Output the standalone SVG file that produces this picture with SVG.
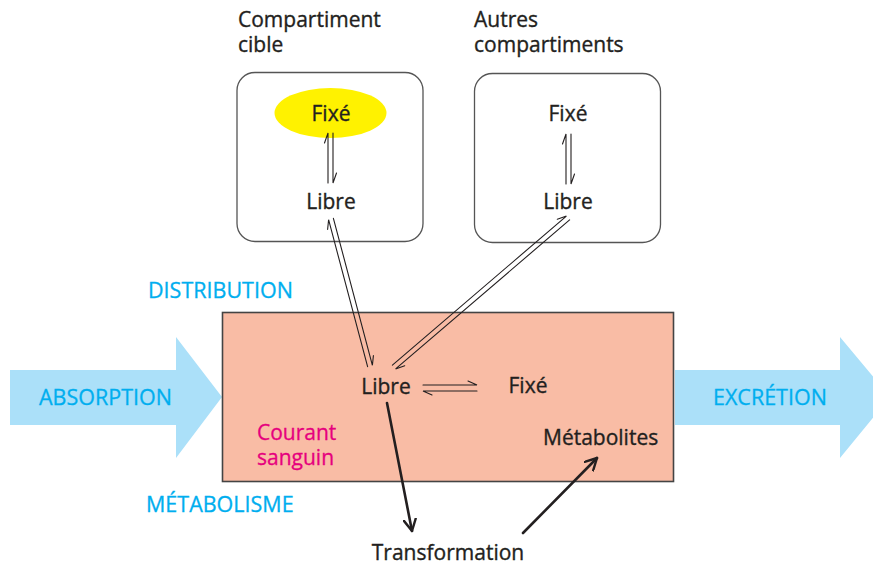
<svg xmlns="http://www.w3.org/2000/svg" width="873" height="566" viewBox="0 0 873 566">
  <style>
    .lbl { font-family: "Open Sans", "Noto Sans", sans-serif; font-size: 21px; fill: #231f20; stroke: #231f20; stroke-width: 0.35; }
    .mid { text-anchor: middle; }
    .phase { font-family: "Open Sans", "Noto Sans", sans-serif; font-size: 21.5px; fill: #00aeef; stroke: #00aeef; stroke-width: 0.3; }
    .blood { font-family: "Open Sans", "Noto Sans", sans-serif; font-size: 21px; fill: #e6007e; stroke: #e6007e; stroke-width: 0.3; }
    .box { fill: #ffffff; stroke: #555555; stroke-width: 1.3; }
    .flow { fill: #abe0f9; }
    .thin { fill: none; stroke: #231f20; stroke-width: 1.1; stroke-linecap: round; }
    .thick { fill: none; stroke: #231f20; stroke-width: 2.6; stroke-linecap: round; }
  </style>
  <defs>
    <marker id="open" viewBox="0 0 14 14" refX="12.5" refY="7" markerWidth="14" markerHeight="14" markerUnits="userSpaceOnUse" orient="auto">
      <path d="M1,1 L12.5,7 L1,13" fill="none" stroke="#231f20" stroke-width="2.4" stroke-linecap="round" stroke-linejoin="round"/>
    </marker>
  </defs>

  <!-- flow arrows in and out of the bloodstream -->
  <g id="absorption">
    <polygon class="flow" points="10,370 176,370 176,337 222,397 176,458 176,425 10,425"/>
    <text class="phase" x="39" y="405">ABSORPTION</text>
  </g>
  <g id="excretion">
    <polygon class="flow" points="675,370 840,370 840,337 890,397 840,458 840,425 675,425"/>
    <text class="phase" x="713" y="405">EXCRÉTION</text>
  </g>

  <!-- bloodstream -->
  <g id="courant-sanguin">
    <rect x="222.5" y="312.5" width="451" height="169" fill="#f9bca5" stroke="#444444" stroke-width="1.6"/>
    <text class="blood"><tspan x="257" y="440">Courant</tspan><tspan x="257" y="465">sanguin</tspan></text>
  </g>
  <g id="sang-libre"><text class="lbl mid" x="386" y="394">Libre</text></g>
  <g id="sang-fixe"><text class="lbl mid" x="528" y="393">Fixé</text></g>
  <g id="metabolites"><text class="lbl" x="543" y="445">Métabolites</text></g>
  <g id="transformation"><text class="lbl mid" x="448" y="560">Transformation</text></g>

  <!-- target compartment -->
  <g id="compartiment-cible">
    <text class="lbl"><tspan x="238" y="27">Compartiment</tspan><tspan x="238" y="52">cible</tspan></text>
    <rect class="box" x="237" y="72.5" width="186" height="169" rx="18"/>
    <ellipse cx="330.5" cy="113" rx="56" ry="25" fill="#fff200"/>
    <text class="lbl mid" x="331" y="121">Fixé</text>
    <text class="lbl mid" x="331" y="209">Libre</text>
  </g>

  <!-- other compartments -->
  <g id="autres-compartiments">
    <text class="lbl"><tspan x="474" y="27">Autres</tspan><tspan x="474" y="52">compartiments</tspan></text>
    <rect class="box" x="474.5" y="73.5" width="186" height="169" rx="18"/>
    <text class="lbl mid" x="568" y="121">Fixé</text>
    <text class="lbl mid" x="568" y="209">Libre</text>
  </g>

  <!-- exchanges -->
  <g id="connecteurs">
    <!-- target compartment: bound <=> free -->
    <path class="thin" d="M328,183 L328,133 L324.5,143"/>
    <path class="thin" d="M333,133 L333,183 L336.5,173"/>
    <!-- other compartments: bound <=> free -->
    <path class="thin" d="M566,184 L566,134 L562.5,144"/>
    <path class="thin" d="M571,134 L571,184 L574.5,174"/>
    <!-- target compartment <=> blood -->
    <path class="thin" d="M367.6,366.7 L328.6,219.7 L327.6,229.5"/>
    <path class="thin" d="M333.4,218.3 L372.4,365.3 L373.4,355.6"/>
    <!-- other compartments <=> blood -->
    <path class="thin" d="M392.4,365.1 L566.4,216.1 L557.3,219.3"/>
    <path class="thin" d="M569.6,219.9 L395.6,368.9 L404.7,365.7"/>
    <!-- blood: free <=> bound -->
    <path class="thin" d="M423,385 L477,385 L468,381"/>
    <path class="thin" d="M477,391 L423,391 L432,395"/>
    <!-- metabolism -->
    <line class="thick" x1="387" y1="403" x2="412" y2="531" marker-end="url(#open)"/>
    <line class="thick" x1="523" y1="533" x2="597" y2="458" marker-end="url(#open)"/>
  </g>

  <!-- phase labels -->
  <g id="distribution"><text class="phase" x="148" y="298">DISTRIBUTION</text></g>
  <g id="metabolisme"><text class="phase" x="146" y="512">MÉTABOLISME</text></g>
</svg>
